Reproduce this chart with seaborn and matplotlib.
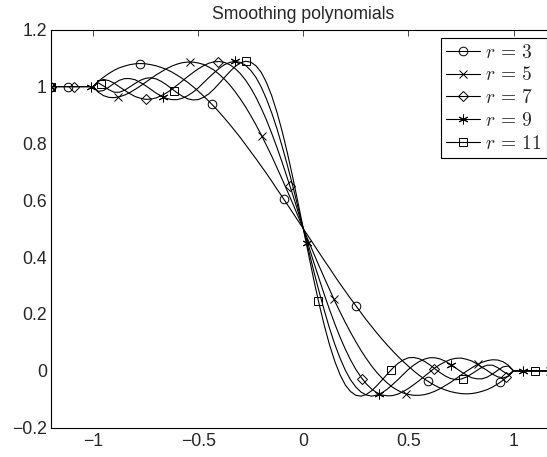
import numpy as np
import pandas as pd
import matplotlib
matplotlib.use("Agg")
import matplotlib.pyplot as plt
from matplotlib.lines import Line2D
from matplotlib.ticker import FuncFormatter
import seaborn as sns

# ---------------- data ----------------
title = "Smoothing polynomials"
degrees = [3, 5, 7, 9, 11]
series_labels = [r"$r\,=\,3$", r"$r\,=\,5$", r"$r\,=\,7$", r"$r\,=\,9$", r"$r\,=\,11$"]

# sample positions: x = -1.2, then -1 ... 1 in steps of 0.025, then 1.2
x_grid = np.concatenate([[-1.2], np.linspace(-1.0, 1.0, 81), [1.2]])

y_r3 = [1.0,
        1.000, 1.018, 1.033, 1.046, 1.057, 1.066, 1.072, 1.077, 1.080, 1.081,
        1.080, 1.077, 1.073, 1.067, 1.060, 1.051, 1.040, 1.028, 1.015, 1.000,
        0.984, 0.967, 0.949, 0.930, 0.910, 0.889, 0.867, 0.844, 0.821, 0.796,
        0.771, 0.746, 0.720, 0.694, 0.667, 0.639, 0.612, 0.584, 0.556, 0.528,
        0.500,
        0.472, 0.444, 0.416, 0.388, 0.361, 0.333, 0.306, 0.280, 0.254, 0.229,
        0.204, 0.179, 0.156, 0.133, 0.111, 0.090, 0.070, 0.051, 0.033, 0.016,
        0.000, -0.015, -0.028, -0.040, -0.051, -0.060, -0.067, -0.073, -0.077, -0.080,
        -0.081, -0.080, -0.077, -0.072, -0.066, -0.057, -0.046, -0.033, -0.018, 0.000,
        0.0]

y_r5 = [1.0,
        1.000, 0.980, 0.968, 0.962, 0.961, 0.964, 0.970, 0.979, 0.990, 1.002,
        1.015, 1.028, 1.041, 1.052, 1.063, 1.072, 1.079, 1.084, 1.086, 1.086,
        1.083, 1.078, 1.069, 1.058, 1.043, 1.026, 1.006, 0.983, 0.957, 0.929,
        0.898, 0.865, 0.830, 0.793, 0.755, 0.714, 0.673, 0.631, 0.588, 0.544,
        0.500,
        0.456, 0.412, 0.369, 0.327, 0.286, 0.245, 0.207, 0.170, 0.135, 0.102,
        0.071, 0.043, 0.017, -0.006, -0.026, -0.043, -0.058, -0.069, -0.078, -0.083,
        -0.086, -0.086, -0.084, -0.079, -0.072, -0.063, -0.052, -0.041, -0.028, -0.015,
        -0.002, 0.010, 0.021, 0.030, 0.036, 0.039, 0.038, 0.032, 0.020, 0.000,
        0.0]

y_r7 = [1.0,
        1.000, 1.019, 1.025, 1.021, 1.012, 0.999, 0.987, 0.975, 0.965, 0.959,
        0.955, 0.956, 0.960, 0.968, 0.978, 0.990, 1.005, 1.020, 1.035, 1.049,
        1.062, 1.073, 1.082, 1.087, 1.088, 1.085, 1.077, 1.064, 1.046, 1.023,
        0.995, 0.962, 0.924, 0.882, 0.835, 0.785, 0.732, 0.676, 0.619, 0.560,
        0.500,
        0.440, 0.381, 0.324, 0.268, 0.215, 0.165, 0.118, 0.076, 0.038, 0.005,
        -0.023, -0.046, -0.064, -0.077, -0.085, -0.088, -0.087, -0.082, -0.073, -0.062,
        -0.049, -0.035, -0.020, -0.005, 0.010, 0.022, 0.032, 0.040, 0.044, 0.045,
        0.041, 0.035, 0.025, 0.013, 0.001, -0.012, -0.021, -0.025, -0.019, 0.000,
        0.0]

y_r9 = [1.0,
        1.000, 0.983, 0.986, 0.998, 1.011, 1.022, 1.028, 1.028, 1.024, 1.014,
        1.003, 0.990, 0.977, 0.966, 0.958, 0.954, 0.954, 0.959, 0.968, 0.980,
        0.995, 1.013, 1.031, 1.048, 1.064, 1.077, 1.085, 1.089, 1.085, 1.075,
        1.057, 1.032, 0.998, 0.956, 0.907, 0.851, 0.788, 0.721, 0.650, 0.575,
        0.500,
        0.425, 0.350, 0.279, 0.212, 0.149, 0.093, 0.044, 0.002, -0.032, -0.057,
        -0.075, -0.085, -0.089, -0.085, -0.077, -0.064, -0.048, -0.031, -0.013, 0.005,
        0.020, 0.032, 0.041, 0.046, 0.046, 0.042, 0.034, 0.023, 0.010, -0.003,
        -0.014, -0.024, -0.028, -0.028, -0.022, -0.011, 0.002, 0.014, 0.017, 0.000,
        0.0]

y_r11 = [1.0,
         1.000, 1.013, 1.002, 0.989, 0.980, 0.980, 0.987, 0.999, 1.011, 1.022,
         1.029, 1.031, 1.027, 1.018, 1.006, 0.992, 0.978, 0.966, 0.957, 0.953,
         0.954, 0.962, 0.974, 0.991, 1.011, 1.032, 1.052, 1.070, 1.083, 1.089,
         1.086, 1.073, 1.050, 1.014, 0.967, 0.909, 0.841, 0.764, 0.680, 0.591,
         0.500,
         0.409, 0.320, 0.236, 0.159, 0.091, 0.033, -0.014, -0.050, -0.073, -0.086,
         -0.089, -0.083, -0.070, -0.052, -0.032, -0.011, 0.009, 0.026, 0.038, 0.046,
         0.047, 0.043, 0.034, 0.022, 0.008, -0.006, -0.018, -0.027, -0.031, -0.029,
         -0.022, -0.011, 0.001, 0.013, 0.020, 0.020, 0.011, -0.002, -0.013, 0.000,
         0.0]

# marker positions along each curve
mx_r3 = [-1.2, -1.12, -0.776, -0.434, -0.093, 0.25, 0.594, 0.935, 1.2]
my_r3 = [1.0, 1.000, 1.081, 0.937, 0.604, 0.229, -0.037, -0.041, 0.0]
mx_r5 = [-1.2, -0.882, -0.54, -0.197, 0.146, 0.489, 0.832, 1.175, 1.2]
my_r5 = [1.0, 0.962, 1.086, 0.826, 0.252, -0.081, 0.024, 0.0, 0.0]
mx_r7 = [-1.2, -1.091, -0.748, -0.405, -0.063, 0.28, 0.623, 0.966, 1.2]
my_r7 = [1.0, 1.000, 0.955, 1.088, 0.649, -0.028, 0.008, -0.022, 0.0]
mx_r9 = [-1.2, -1.009, -0.667, -0.326, 0.017, 0.36, 0.703, 1.046, 1.2]
my_r9 = [1.0, 1.000, 0.963, 1.089, 0.449, -0.083, 0.022, 0.0, 0.0]
mx_r11 = [-1.2, -0.96, -0.614, -0.271, 0.072, 0.415, 0.758, 1.1, 1.2]
my_r11 = [1.0, 1.008, 0.985, 1.089, 0.246, 0.002, -0.027, 0.0, 0.0]

x_ticks = [-1, -0.5, 0, 0.5, 1]
y_ticks = [-0.2, 0, 0.2, 0.4, 0.6, 0.8, 1, 1.2]

# ---------------- styling ----------------
sns.set_theme(style="white")
plt.rcParams["font.family"] = ["Liberation Sans", "DejaVu Sans"]
plt.rcParams["mathtext.fontset"] = "cm"
plt.rcParams["axes.edgecolor"] = "black"
plt.rcParams["axes.linewidth"] = 0.8

curves = [y_r3, y_r5, y_r7, y_r9, y_r11]
mxs = [mx_r3, mx_r5, mx_r7, mx_r9, mx_r11]
mys = [my_r3, my_r5, my_r7, my_r9, my_r11]
marker_styles = ["o", "x", "D", (6, 2, 0), "s"]
marker_sizes = [6.2, 5.5, 5.0, 7.0, 5.5]

fig = plt.figure(figsize=(5.47, 4.57), dpi=100)
ax = fig.add_axes([51 / 547, 1 - 427.7 / 457, (555.6 - 51) / 547, (427.7 - 29.7) / 457])

for ys in curves:
    df = pd.DataFrame({"x": x_grid, "y": ys})
    sns.lineplot(data=df, x="x", y="y", ax=ax, color="black", linewidth=0.8,
                 estimator=None, errorbar=None, sort=False)

for mx, my, m, ms in zip(mxs, mys, marker_styles, marker_sizes):
    dfm = pd.DataFrame({"x": mx, "y": my})
    sns.lineplot(data=dfm, x="x", y="y", ax=ax, color="black", linestyle="",
                 marker=m, markersize=ms, mfc="none", mec="black", mew=0.7,
                 estimator=None, errorbar=None, sort=False)

for line in ax.get_lines():
    if line.get_marker() not in (None, "None", ""):
        line.set_markerfacecolor("none")

ax.set_xlim(-1.2, 1.2)
ax.set_ylim(-0.2, 1.2)
ax.set_xticks(x_ticks)
ax.set_yticks(y_ticks)
fmt = FuncFormatter(lambda v, p: ("%g" % v).replace("-", "\u2212"))
ax.xaxis.set_major_formatter(fmt)
ax.yaxis.set_major_formatter(fmt)
ax.set_xlabel("")
ax.set_ylabel("")
ax.tick_params(direction="in", length=4, width=0.5, color="black",
               top=True, right=True, labelsize=12.7)
ax.tick_params(axis="x", pad=3.5)
ax.tick_params(axis="y", pad=3)
for sp in ax.spines.values():
    sp.set_visible(True)
    sp.set_color("black")
    sp.set_linewidth(0.8)

ax.set_title(title, fontsize=12.7, pad=8)

handles = [Line2D([0], [0], color="black", lw=0.8, marker=m, ms=ms, mfc="none",
                  mec="black", mew=0.7) for m, ms in zip(marker_styles, marker_sizes)]
leg = ax.legend(handles, series_labels, loc="upper right",
                bbox_to_anchor=(546.7 / 547, 1 - 38.3 / 457), bbox_transform=fig.transFigure,
                borderaxespad=0, fontsize=14, handlelength=1.75, handletextpad=0.25,
                labelspacing=0.245, borderpad=0.27, fancybox=False, framealpha=1,
                edgecolor="black")
leg.get_frame().set_linewidth(0.8)

fig.savefig("out.png", dpi=100)
